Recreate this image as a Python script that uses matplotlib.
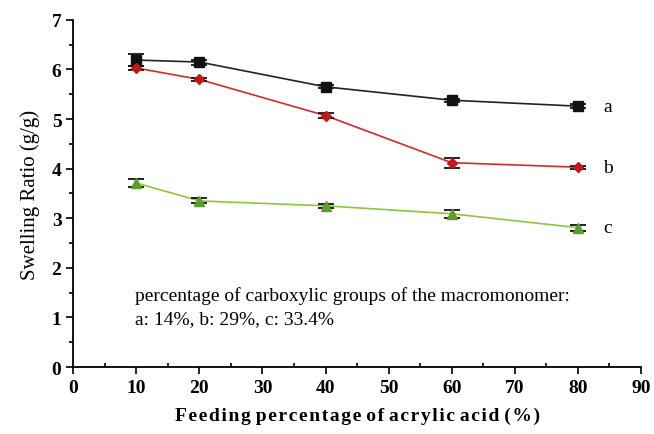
import numpy as np
import matplotlib.pyplot as plt
from matplotlib.ticker import MultipleLocator

plt.rcParams['font.family'] = 'Liberation Serif'

# feeding percentage of acrylic acid (%)
feed = [10, 20, 40, 60, 80]

# swelling ratio (g/g) for the three macromonomers
ratio_a = [6.19, 6.15, 5.65, 5.38, 5.26]
ratio_b = [6.03, 5.80, 5.07, 4.12, 4.03]
ratio_c = [3.71, 3.35, 3.25, 3.09, 2.81]

err_a = [0.12, 0.05, 0.03, 0.03, 0.04]
err_b = [0.04, 0.03, 0.05, 0.10, 0.03]
err_c = [0.08, 0.05, 0.04, 0.08, 0.06]

fig = plt.figure(figsize=(6.54, 4.35), dpi=100)
ax = fig.add_axes([0.112, 0.154, 0.868, 0.798])

series = [
    (ratio_a, err_a, '#222222', '#111111', 's', 'a'),
    (ratio_b, err_b, '#d62a2a', '#c41818', 'D', 'b'),
    (ratio_c, err_c, '#8cc63f', '#5d9e2a', '^', 'c'),
]
for vals, errs, lc, mc, mk, lab in series:
    ax.plot(feed, vals, color=lc, lw=1.2, zorder=2)
    ax.errorbar(feed, vals, yerr=errs, fmt='none', ecolor='#111111',
                elinewidth=1.0, capsize=6, capthick=1.3, zorder=3)
    ax.plot(feed, vals, linestyle='none', marker=mk, color=mc,
            markersize=6.5 if mk != 'D' else 5.5, zorder=4)
    ax.text(feed[-1] + 4, vals[-1], lab, fontsize=14, va='center', ha='left')

ax.text(9.8, 1.45, 'percentage of carboxylic groups of the macromonomer:',
        fontsize=14, va='center')
ax.text(9.8, 0.98, 'a: 14%, b: 29%, c: 33.4%', fontsize=14, va='center')

ax.set_xlim(0, 90)
ax.set_ylim(0, 7)
ax.xaxis.set_major_locator(MultipleLocator(10))
ax.xaxis.set_minor_locator(MultipleLocator(5))
ax.yaxis.set_major_locator(MultipleLocator(1))
ax.yaxis.set_minor_locator(MultipleLocator(0.5))
ax.tick_params(axis='both', which='major', direction='out', length=5,
               width=1.2, labelsize=14)
ax.tick_params(axis='x', which='minor', direction='in', length=3, width=1.2)
ax.tick_params(axis='y', which='minor', direction='out', length=3, width=1.2)
for lbl in ax.get_xticklabels() + ax.get_yticklabels():
    lbl.set_fontweight('bold')

for side in ['top', 'right']:
    ax.spines[side].set_visible(False)
for side in ['left', 'bottom']:
    ax.spines[side].set_linewidth(1.3)

# letter-spaced axis title: hair spaces between letters, plain space between words
xtitle = 'Feeding percentage of acrylic acid (%)'
xtitle = ' '.join('\u200a'.join(word) for word in xtitle.split(' '))
ax.set_xlabel(xtitle, fontsize=14, fontweight='bold', labelpad=8)
ax.set_ylabel('Swelling Ratio (g/g)', fontsize=15, labelpad=8)

fig.savefig('out.png', dpi=100)
